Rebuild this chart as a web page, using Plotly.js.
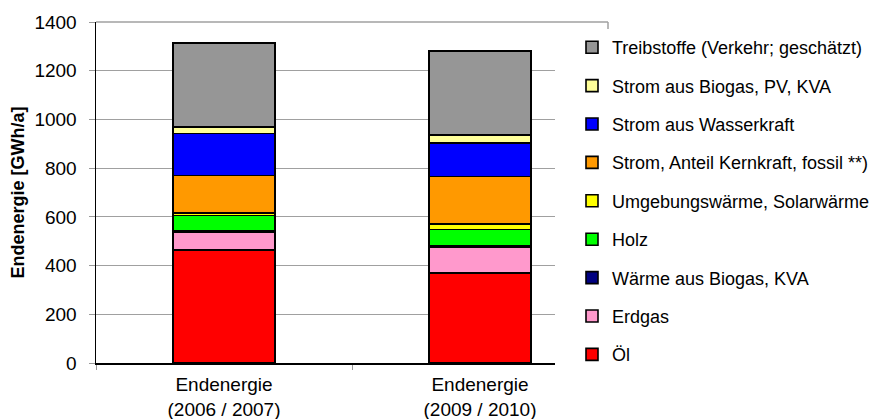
<!DOCTYPE html>
<html>
<head>
<meta charset="utf-8">
<script src="https://cdn.plot.ly/plotly-3.0.1.min.js"></script>
<style>body{margin:0;background:#fff;} #chart{width:878px;height:419px;}</style>
</head>
<body>
<div id="chart"></div>
<script>
// Categories (x axis)
var categories = ["Endenergie<br>(2006 / 2007)", "Endenergie<br>(2009 / 2010)"];

// Series values (GWh/a), bottom to top of the stack
var oel            = [464, 370];
var erdgas         = [75, 105];
var waermeBiogas   = [5, 6];
var holz           = [61, 67];
var umgebung       = [12, 23];
var stromFossil    = [152, 194];
var stromWasser    = [174, 139];
var stromBiogas    = [27, 32];
var treibstoffe    = [344, 344];

// Series names
var names = [
  "Öl",
  "Erdgas",
  "Wärme aus Biogas, KVA",
  "Holz",
  "Umgebungswärme, Solarwärme",
  "Strom, Anteil Kernkraft, fossil **)",
  "Strom aus Wasserkraft",
  "Strom aus Biogas, PV, KVA",
  "Treibstoffe (Verkehr; geschätzt)"
];
var series = [oel, erdgas, waermeBiogas, holz, umgebung, stromFossil, stromWasser, stromBiogas, treibstoffe];
var colors = ["#FF0000", "#FF99CC", "#000080", "#00FF00", "#FFFF00", "#FF9900", "#0000FF", "#FFFF99", "#969696"];

// Y tick values
var yTicks = [0, 200, 400, 600, 800, 1000, 1200, 1400];

var traces = series.map(function (vals, i) {
  return {
    type: "bar",
    x: categories,
    y: vals,
    name: names[i],
    legendgroup: "g" + i,
    legendrank: 100 - i,
    width: 0.4,
    marker: { color: colors[i], line: { color: "#000000", width: 1.6 } },
    hoverinfo: "name+y"
  };
});

var font = "Liberation Sans, Arial, sans-serif";

var layout = {
  width: 878,
  height: 419,
  margin: { l: 96, r: 270, t: 22, b: 56, autoexpand: false },
  paper_bgcolor: "#ffffff",
  plot_bgcolor: "#ffffff",
  barmode: "stack",
  bargap: 0.6,
  showlegend: true,
  font: { family: font, size: 18, color: "#000000" },
  xaxis: {
    type: "category",
    range: [-0.5, 1.5],
    tickson: "boundaries",
    ticks: "outside",
    ticklen: 5,
    tickcolor: "#999999",
    ticklabelstandoff: 4,
    showline: true,
    linecolor: "#000000",
    linewidth: 1.5,
    showgrid: false,
    tickfont: { family: font, size: 19, color: "#000000" },
    automargin: false,
    fixedrange: true
  },
  yaxis: {
    range: [0, 1400],
    tickvals: yTicks,
    ticktext: yTicks.map(String),
    ticks: "outside",
    ticklen: 6,
    tickcolor: "#999999",
    ticklabelstandoff: 8,
    showline: true,
    linecolor: "#000000",
    linewidth: 1.5,
    showgrid: true,
    gridcolor: "#a0a0a0",
    gridwidth: 1,
    zeroline: false,
    tickfont: { family: font, size: 19, color: "#000000" },
    title: { text: "Endenergie [GWh/a]", font: { family: font, size: 18, color: "#000000", weight: "bold" }, standoff: 5 },
    automargin: false,
    fixedrange: true
  },
  legend: {
    xref: "container",
    yref: "container",
    x: 572 / 878,
    y: 1 - 29 / 419,
    xanchor: "left",
    yanchor: "top",
    traceorder: "grouped",
    tracegroupgap: 12,
    maxheight: 400,
    bgcolor: "rgba(0,0,0,0)",
    font: { family: font, size: 18, color: "#000000" }
  },
  shapes: [
    { type: "rect", xref: "paper", yref: "paper", x0: (555 - 96) / 512, x1: 1.02, y0: -0.05, y1: 1 - 7 / 341, fillcolor: "#ffffff", line: { width: 0 }, layer: "above" },
    { type: "line", xref: "paper", yref: "paper", x0: 0, x1: 1, y0: 1, y1: 1, line: { color: "#a0a0a0", width: 1.5 }, layer: "above" },
    { type: "line", xref: "paper", yref: "paper", x0: 1, x1: 1, y0: 1, y1: 1 - 7 / 341, line: { color: "#a0a0a0", width: 1.5 }, layer: "above" }
  ]
};

Plotly.newPlot("chart", traces, layout, { displayModeBar: false, staticPlot: true });
</script>
</body>
</html>
